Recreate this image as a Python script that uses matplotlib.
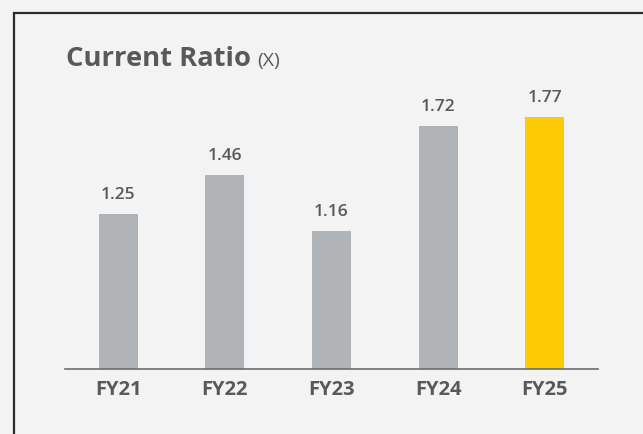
import matplotlib.pyplot as plt
from matplotlib.patches import Rectangle

# datos del grafico
years = ['FY21', 'FY22', 'FY23', 'FY24', 'FY25']
ratio = [1.25, 1.46, 1.16, 1.72, 1.77]
labels = ['1.25', '1.46', '1.16', '1.72', '1.77']

plt.rcParams['font.family'] = ['Open Sans', 'DejaVu Sans']

W, H = 643, 434
fig = plt.figure(figsize=(W / 100, H / 100), dpi=100)
fig.patch.set_facecolor('#f3f3f3')

# marco
fig.patches.append(Rectangle((14 / W, -0.1), 1.0, (H - 13) / H + 0.1,
                             transform=fig.transFigure, fill=False,
                             edgecolor='#2b2b2b', linewidth=1.6))

# ejes
ax = fig.add_axes([65 / W, (H - 369) / H, 533 / W, 295 / H])
ax.set_facecolor('none')
colores = ['#b1b4b6'] * 4 + ['#ffcb05']
ax.bar(range(len(years)), ratio, width=0.366, color=colores, zorder=2)
ax.set_xlim(-0.5, 4.5)
ax.set_ylim(0.42, 2.0)

for i, v in enumerate(ratio):
    ax.annotate(labels[i], (i, v), xytext=(0, 8), textcoords='offset points',
                ha='center', va='bottom', fontsize=12.5, fontweight='semibold',
                color='#595959')

for s in ['top', 'right', 'left']:
    ax.spines[s].set_visible(False)
ax.spines['bottom'].set_color('#6d6d6d')
ax.spines['bottom'].set_linewidth(1.2)
ax.set_yticks([])
ax.set_xticks(range(len(years)))
ax.set_xticklabels(years, fontsize=14.5, fontweight='bold', color='#595959')
ax.tick_params(axis='x', length=0, pad=8)

# titulo
fig.text(66 / W, (H - 66) / H, 'Current Ratio', fontsize=19.7,
         fontweight='bold', color='#595959', va='baseline')
fig.text(257 / W, (H - 66) / H, '(X)', fontsize=14, color='#595959',
         va='baseline')

fig.savefig('out.png', dpi=100, facecolor=fig.get_facecolor())
